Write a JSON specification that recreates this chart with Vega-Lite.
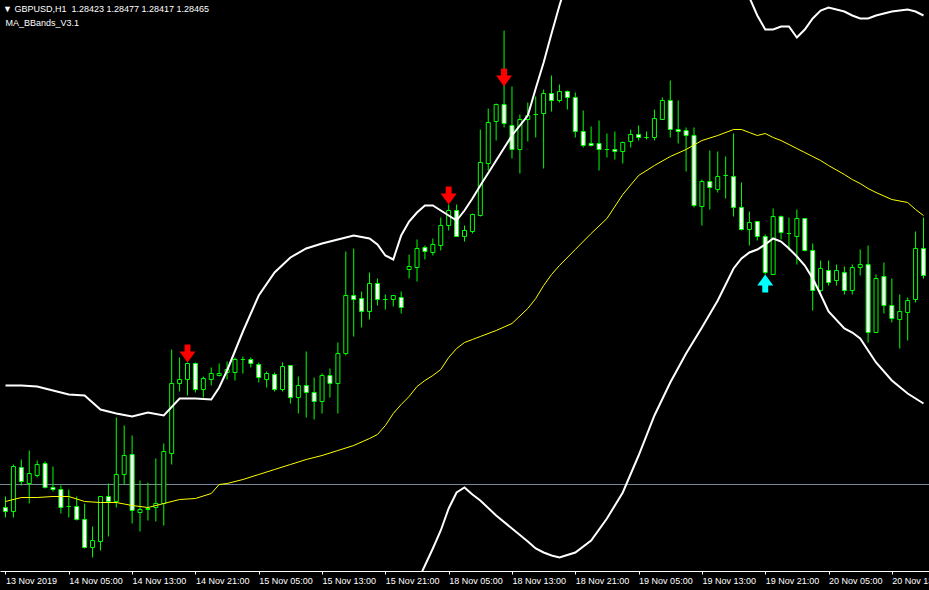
{
  "$schema": "https://vega.github.io/schema/vega-lite/v6.json",
  "width": 929,
  "height": 571,
  "autosize": {"type": "none"},
  "padding": {"left": 0, "top": 0, "right": 0, "bottom": 19},
  "background": "black",
  "title": {
    "text": "▼\u00a0GBPUSD,H1\u00a0\u00a01.28423 1.28477 1.28417 1.28465",
    "subtitle": "\u200b\u00a0MA_BBands_V3.1",
    "anchor": "start",
    "frame": "group",
    "orient": "top",
    "offset": -28,
    "dx": 3,
    "font": "Liberation Sans",
    "fontSize": 9,
    "fontWeight": "normal",
    "color": "white",
    "subtitleFont": "Liberation Sans",
    "subtitleFontSize": 9,
    "subtitleColor": "white",
    "subtitlePadding": 5
  },
  "config": {
    "view": {"stroke": null},
    "axis": {
      "labelFont": "Liberation Sans",
      "labelFontSize": 9,
      "labelColor": "white",
      "domainColor": "white",
      "tickColor": "white",
      "tickSize": 3,
      "labelAlign": "left",
      "labelPadding": 2,
      "labelFlush": false,
      "labelOverlap": false,
      "labelBound": false,
      "grid": false,
      "title": null
    }
  },
  "datasets": {
    "candles": [
      {"bar":0,"open":1.28396,"high":1.28429,"low":1.28366,"close":1.28384},
      {"bar":1,"open":1.28384,"high":1.28525,"low":1.28366,"close":1.28519},
      {"bar":2,"open":1.28516,"high":1.28540,"low":1.28462,"close":1.28474},
      {"bar":3,"open":1.28468,"high":1.28567,"low":1.28408,"close":1.28498},
      {"bar":4,"open":1.28492,"high":1.28537,"low":1.28486,"close":1.28525},
      {"bar":5,"open":1.28528,"high":1.28534,"low":1.28453,"close":1.28456},
      {"bar":6,"open":1.28456,"high":1.28519,"low":1.28444,"close":1.28450},
      {"bar":7,"open":1.28450,"high":1.28462,"low":1.28378,"close":1.28396},
      {"bar":8,"open":1.28399,"high":1.28450,"low":1.28366,"close":1.28399},
      {"bar":9,"open":1.28399,"high":1.28429,"low":1.28357,"close":1.28360},
      {"bar":10,"open":1.28360,"high":1.28408,"low":1.28273,"close":1.28276},
      {"bar":11,"open":1.28276,"high":1.28339,"low":1.28246,"close":1.28297},
      {"bar":12,"open":1.28294,"high":1.28429,"low":1.28267,"close":1.28429},
      {"bar":13,"open":1.28429,"high":1.28468,"low":1.28309,"close":1.28414},
      {"bar":14,"open":1.28414,"high":1.28666,"low":1.28396,"close":1.28495},
      {"bar":15,"open":1.28495,"high":1.28642,"low":1.28465,"close":1.28552},
      {"bar":16,"open":1.28555,"high":1.28612,"low":1.28348,"close":1.28387},
      {"bar":17,"open":1.28381,"high":1.28477,"low":1.28324,"close":1.28390},
      {"bar":18,"open":1.28390,"high":1.28471,"low":1.28357,"close":1.28393},
      {"bar":19,"open":1.28396,"high":1.28543,"low":1.28354,"close":1.28408},
      {"bar":20,"open":1.28408,"high":1.28588,"low":1.28342,"close":1.28564},
      {"bar":21,"open":1.28558,"high":1.28870,"low":1.28525,"close":1.28768},
      {"bar":22,"open":1.28768,"high":1.28846,"low":1.28744,"close":1.28780},
      {"bar":23,"open":1.28780,"high":1.28831,"low":1.28732,"close":1.28828},
      {"bar":24,"open":1.28828,"high":1.28831,"low":1.28741,"close":1.28750},
      {"bar":25,"open":1.28750,"high":1.28789,"low":1.28726,"close":1.28783},
      {"bar":26,"open":1.28780,"high":1.28816,"low":1.28762,"close":1.28798},
      {"bar":27,"open":1.28792,"high":1.28828,"low":1.28789,"close":1.28798},
      {"bar":28,"open":1.28801,"high":1.28834,"low":1.28780,"close":1.28810},
      {"bar":29,"open":1.28801,"high":1.28846,"low":1.28777,"close":1.28840},
      {"bar":30,"open":1.28840,"high":1.28849,"low":1.28798,"close":1.28840},
      {"bar":31,"open":1.28840,"high":1.28846,"low":1.28816,"close":1.28828},
      {"bar":32,"open":1.28825,"high":1.28831,"low":1.28771,"close":1.28786},
      {"bar":33,"open":1.28780,"high":1.28804,"low":1.28756,"close":1.28798},
      {"bar":34,"open":1.28795,"high":1.28801,"low":1.28744,"close":1.28750},
      {"bar":35,"open":1.28750,"high":1.28831,"low":1.28744,"close":1.28819},
      {"bar":36,"open":1.28822,"high":1.28822,"low":1.28708,"close":1.28726},
      {"bar":37,"open":1.28726,"high":1.28789,"low":1.28678,"close":1.28762},
      {"bar":38,"open":1.28762,"high":1.28864,"low":1.28666,"close":1.28741},
      {"bar":39,"open":1.28741,"high":1.28786,"low":1.28660,"close":1.28714},
      {"bar":40,"open":1.28714,"high":1.28798,"low":1.28678,"close":1.28792},
      {"bar":41,"open":1.28792,"high":1.28813,"low":1.28726,"close":1.28768},
      {"bar":42,"open":1.28768,"high":1.28891,"low":1.28678,"close":1.28858},
      {"bar":43,"open":1.28858,"high":1.29164,"low":1.28852,"close":1.29032},
      {"bar":44,"open":1.29032,"high":1.29173,"low":1.28909,"close":1.29020},
      {"bar":45,"open":1.29023,"high":1.29044,"low":1.28936,"close":1.28984},
      {"bar":46,"open":1.28984,"high":1.29101,"low":1.28960,"close":1.29068},
      {"bar":47,"open":1.29068,"high":1.29083,"low":1.29002,"close":1.29020},
      {"bar":48,"open":1.29020,"high":1.29035,"low":1.28990,"close":1.29020},
      {"bar":49,"open":1.29020,"high":1.29032,"low":1.28999,"close":1.29032},
      {"bar":50,"open":1.29026,"high":1.29044,"low":1.28978,"close":1.28996},
      {"bar":51,"open":1.29110,"high":1.29155,"low":1.29083,"close":1.29119},
      {"bar":52,"open":1.29116,"high":1.29200,"low":1.29074,"close":1.29173},
      {"bar":53,"open":1.29176,"high":1.29182,"low":1.29140,"close":1.29164},
      {"bar":54,"open":1.29161,"high":1.29203,"low":1.29152,"close":1.29185},
      {"bar":55,"open":1.29182,"high":1.29266,"low":1.29167,"close":1.29242},
      {"bar":56,"open":1.29242,"high":1.29305,"low":1.29227,"close":1.29287},
      {"bar":57,"open":1.29287,"high":1.29305,"low":1.29209,"close":1.29209},
      {"bar":58,"open":1.29209,"high":1.29242,"low":1.29194,"close":1.29227},
      {"bar":59,"open":1.29224,"high":1.29278,"low":1.29218,"close":1.29275},
      {"bar":60,"open":1.29272,"high":1.29530,"low":1.29269,"close":1.29431},
      {"bar":61,"open":1.29428,"high":1.29593,"low":1.29407,"close":1.29551},
      {"bar":62,"open":1.29554,"high":1.29608,"low":1.29497,"close":1.29605},
      {"bar":63,"open":1.29605,"high":1.29827,"low":1.29536,"close":1.29548},
      {"bar":64,"open":1.29542,"high":1.29659,"low":1.29443,"close":1.29470},
      {"bar":65,"open":1.29470,"high":1.29575,"low":1.29398,"close":1.29560},
      {"bar":66,"open":1.29560,"high":1.29611,"low":1.29494,"close":1.29572},
      {"bar":67,"open":1.29575,"high":1.29629,"low":1.29506,"close":1.29575},
      {"bar":68,"open":1.29578,"high":1.29650,"low":1.29413,"close":1.29638},
      {"bar":69,"open":1.29638,"high":1.29692,"low":1.29584,"close":1.29617},
      {"bar":70,"open":1.29617,"high":1.29665,"low":1.29611,"close":1.29644},
      {"bar":71,"open":1.29644,"high":1.29647,"low":1.29590,"close":1.29626},
      {"bar":72,"open":1.29626,"high":1.29641,"low":1.29506,"close":1.29524},
      {"bar":73,"open":1.29524,"high":1.29587,"low":1.29476,"close":1.29482},
      {"bar":74,"open":1.29488,"high":1.29539,"low":1.29479,"close":1.29482},
      {"bar":75,"open":1.29488,"high":1.29557,"low":1.29407,"close":1.29470},
      {"bar":76,"open":1.29470,"high":1.29518,"low":1.29446,"close":1.29470},
      {"bar":77,"open":1.29470,"high":1.29524,"low":1.29440,"close":1.29464},
      {"bar":78,"open":1.29464,"high":1.29494,"low":1.29428,"close":1.29491},
      {"bar":79,"open":1.29494,"high":1.29530,"low":1.29476,"close":1.29515},
      {"bar":80,"open":1.29515,"high":1.29542,"low":1.29497,"close":1.29506},
      {"bar":81,"open":1.29506,"high":1.29524,"low":1.29500,"close":1.29506},
      {"bar":82,"open":1.29506,"high":1.29590,"low":1.29497,"close":1.29563},
      {"bar":83,"open":1.29560,"high":1.29626,"low":1.29560,"close":1.29617},
      {"bar":84,"open":1.29617,"high":1.29677,"low":1.29506,"close":1.29530},
      {"bar":85,"open":1.29530,"high":1.29617,"low":1.29488,"close":1.29524},
      {"bar":86,"open":1.29527,"high":1.29536,"low":1.29404,"close":1.29512},
      {"bar":87,"open":1.29512,"high":1.29536,"low":1.29296,"close":1.29302},
      {"bar":88,"open":1.29299,"high":1.29380,"low":1.29242,"close":1.29374},
      {"bar":89,"open":1.29374,"high":1.29467,"low":1.29290,"close":1.29356},
      {"bar":90,"open":1.29350,"high":1.29464,"low":1.29341,"close":1.29389},
      {"bar":91,"open":1.29392,"high":1.29449,"low":1.29323,"close":1.29392},
      {"bar":92,"open":1.29389,"high":1.29518,"low":1.29269,"close":1.29296},
      {"bar":93,"open":1.29296,"high":1.29371,"low":1.29227,"close":1.29230},
      {"bar":94,"open":1.29230,"high":1.29284,"low":1.29182,"close":1.29251},
      {"bar":95,"open":1.29254,"high":1.29254,"low":1.29197,"close":1.29209},
      {"bar":96,"open":1.29209,"high":1.29215,"low":1.29095,"close":1.29101},
      {"bar":97,"open":1.29095,"high":1.29293,"low":1.29095,"close":1.29269},
      {"bar":98,"open":1.29269,"high":1.29272,"low":1.29200,"close":1.29221},
      {"bar":99,"open":1.29218,"high":1.29266,"low":1.29167,"close":1.29218},
      {"bar":100,"open":1.29209,"high":1.29290,"low":1.29125,"close":1.29263},
      {"bar":101,"open":1.29263,"high":1.29263,"low":1.29164,"close":1.29167},
      {"bar":102,"open":1.29167,"high":1.29188,"low":1.28987,"close":1.29047},
      {"bar":103,"open":1.29047,"high":1.29137,"low":1.29041,"close":1.29113},
      {"bar":104,"open":1.29107,"high":1.29137,"low":1.29062,"close":1.29071},
      {"bar":105,"open":1.29077,"high":1.29125,"low":1.29062,"close":1.29107},
      {"bar":106,"open":1.29101,"high":1.29119,"low":1.29035,"close":1.29047},
      {"bar":107,"open":1.29047,"high":1.29125,"low":1.29035,"close":1.29116},
      {"bar":108,"open":1.29116,"high":1.29170,"low":1.29092,"close":1.29125},
      {"bar":109,"open":1.29125,"high":1.29182,"low":1.28891,"close":1.28921},
      {"bar":110,"open":1.28921,"high":1.29095,"low":1.28921,"close":1.29083},
      {"bar":111,"open":1.29089,"high":1.29131,"low":1.28978,"close":1.29002},
      {"bar":112,"open":1.29002,"high":1.29083,"low":1.28951,"close":1.28963},
      {"bar":113,"open":1.28960,"high":1.29035,"low":1.28873,"close":1.28984},
      {"bar":114,"open":1.28981,"high":1.29026,"low":1.28897,"close":1.29017},
      {"bar":115,"open":1.29020,"high":1.29224,"low":1.29011,"close":1.29173},
      {"bar":116,"open":1.29173,"high":1.29266,"low":1.29083,"close":1.29092}
    ],
    "bands": [
      {"bar":0,"upper":1.28762,"mid":1.28414,"lower":1.28066},
      {"bar":2,"upper":1.28762,"mid":1.28426,"lower":1.28090},
      {"bar":4,"upper":1.28759,"mid":1.28426,"lower":1.28093},
      {"bar":6,"upper":1.28747,"mid":1.28429,"lower":1.28111},
      {"bar":8,"upper":1.28735,"mid":1.28429,"lower":1.28123},
      {"bar":10,"upper":1.28732,"mid":1.28414,"lower":1.28096},
      {"bar":12,"upper":1.28690,"mid":1.28411,"lower":1.28132},
      {"bar":14,"upper":1.28678,"mid":1.28411,"lower":1.28144},
      {"bar":16,"upper":1.28669,"mid":1.28402,"lower":1.28135},
      {"bar":18,"upper":1.28681,"mid":1.28396,"lower":1.28111},
      {"bar":20,"upper":1.28672,"mid":1.28408,"lower":1.28144},
      {"bar":22,"upper":1.28723,"mid":1.28420,"lower":1.28117},
      {"bar":24,"upper":1.28723,"mid":1.28423,"lower":1.28123},
      {"bar":26,"upper":1.28720,"mid":1.28438,"lower":1.28156},
      {"bar":27,"upper":1.28756,"mid":1.28465,"lower":1.28174},
      {"bar":28,"upper":1.28807,"mid":1.28468,"lower":1.28129},
      {"bar":30,"upper":1.28924,"mid":1.28480,"lower":1.28036},
      {"bar":32,"upper":1.29032,"mid":1.28495,"lower":1.27958},
      {"bar":34,"upper":1.29101,"mid":1.28510,"lower":1.27919},
      {"bar":36,"upper":1.29146,"mid":1.28525,"lower":1.27904},
      {"bar":38,"upper":1.29173,"mid":1.28540,"lower":1.27907},
      {"bar":40,"upper":1.29188,"mid":1.28552,"lower":1.27916},
      {"bar":42,"upper":1.29200,"mid":1.28567,"lower":1.27934},
      {"bar":44,"upper":1.29212,"mid":1.28582,"lower":1.27952},
      {"bar":46,"upper":1.29203,"mid":1.28603,"lower":1.28003},
      {"bar":47,"upper":1.29185,"mid":1.28615,"lower":1.28045},
      {"bar":48,"upper":1.29152,"mid":1.28642,"lower":1.28132},
      {"bar":49,"upper":1.29140,"mid":1.28678,"lower":1.28147},
      {"bar":50,"upper":1.29212,"mid":1.28705,"lower":1.28117},
      {"bar":51,"upper":1.29254,"mid":1.28729,"lower":1.28132},
      {"bar":52,"upper":1.29281,"mid":1.28759,"lower":1.28171},
      {"bar":53,"upper":1.29302,"mid":1.28777,"lower":1.28222},
      {"bar":54,"upper":1.29302,"mid":1.28792,"lower":1.28273},
      {"bar":55,"upper":1.29287,"mid":1.28810,"lower":1.28327},
      {"bar":56,"upper":1.29272,"mid":1.28846,"lower":1.28393},
      {"bar":57,"upper":1.29257,"mid":1.28873,"lower":1.28441},
      {"bar":58,"upper":1.29287,"mid":1.28891,"lower":1.28456},
      {"bar":59,"upper":1.29323,"mid":1.28900,"lower":1.28435},
      {"bar":60,"upper":1.29362,"mid":1.28909,"lower":1.28417},
      {"bar":62,"upper":1.29437,"mid":1.28927,"lower":1.28372},
      {"bar":64,"upper":1.29512,"mid":1.28948,"lower":1.28333},
      {"bar":66,"upper":1.29572,"mid":1.28993,"lower":1.28294},
      {"bar":67,"upper":1.29653,"mid":1.29023,"lower":1.28273},
      {"bar":68,"upper":1.29731,"mid":1.29062,"lower":1.28261},
      {"bar":69,"upper":1.29818,"mid":1.29095,"lower":1.28252},
      {"bar":70,"upper":1.29902,"mid":1.29122,"lower":1.28246},
      {"bar":72,"upper":1.30052,"mid":1.29170,"lower":1.28261},
      {"bar":74,"upper":1.30142,"mid":1.29218,"lower":1.28297},
      {"bar":76,"upper":1.30187,"mid":1.29263,"lower":1.28363},
      {"bar":78,"upper":1.30232,"mid":1.29335,"lower":1.28441},
      {"bar":80,"upper":1.30232,"mid":1.29392,"lower":1.28552},
      {"bar":82,"upper":1.30187,"mid":1.29422,"lower":1.28672},
      {"bar":84,"upper":1.30142,"mid":1.29449,"lower":1.28771},
      {"bar":86,"upper":1.30082,"mid":1.29470,"lower":1.28858},
      {"bar":88,"upper":1.30052,"mid":1.29497,"lower":1.28936},
      {"bar":90,"upper":1.30007,"mid":1.29512,"lower":1.29017},
      {"bar":92,"upper":1.29977,"mid":1.29530,"lower":1.29113},
      {"bar":93,"upper":1.29947,"mid":1.29530,"lower":1.29143},
      {"bar":94,"upper":1.29926,"mid":1.29521,"lower":1.29161},
      {"bar":95,"upper":1.29872,"mid":1.29512,"lower":1.29170},
      {"bar":96,"upper":1.29830,"mid":1.29518,"lower":1.29185},
      {"bar":97,"upper":1.29830,"mid":1.29506,"lower":1.29203},
      {"bar":98,"upper":1.29839,"mid":1.29497,"lower":1.29194},
      {"bar":99,"upper":1.29839,"mid":1.29485,"lower":1.29173},
      {"bar":100,"upper":1.29806,"mid":1.29473,"lower":1.29149},
      {"bar":101,"upper":1.29830,"mid":1.29461,"lower":1.29122},
      {"bar":102,"upper":1.29863,"mid":1.29449,"lower":1.29083},
      {"bar":103,"upper":1.29887,"mid":1.29437,"lower":1.29035},
      {"bar":104,"upper":1.29896,"mid":1.29422,"lower":1.28984},
      {"bar":106,"upper":1.29884,"mid":1.29395,"lower":1.28933},
      {"bar":107,"upper":1.29872,"mid":1.29380,"lower":1.28921},
      {"bar":108,"upper":1.29863,"mid":1.29368,"lower":1.28903},
      {"bar":109,"upper":1.29863,"mid":1.29353,"lower":1.28867},
      {"bar":110,"upper":1.29872,"mid":1.29341,"lower":1.28831},
      {"bar":112,"upper":1.29884,"mid":1.29320,"lower":1.28777},
      {"bar":114,"upper":1.29890,"mid":1.29311,"lower":1.28738},
      {"bar":115,"upper":1.29884,"mid":1.29290,"lower":1.28723},
      {"bar":116,"upper":1.29872,"mid":1.29272,"lower":1.28708}
    ],
    "signals": [
      {"bar":23,"price":1.28858,"type":"sell"},
      {"bar":56,"price":1.29332,"type":"sell"},
      {"bar":63,"price":1.29686,"type":"sell"},
      {"bar":96,"price":1.29068,"type":"buy"}
    ]
  },
  "layer": [
    {
      "data": {"values": [{"price": 1.28465}]},
      "mark": {"type": "rule", "color": "#778899", "strokeWidth": 1},
      "encoding": {
        "y": {"field": "price", "type": "quantitative", "scale": {"domain": [1.282055, 1.299185], "zero": false, "nice": false}, "axis": null}
      }
    },
    {
      "data": {"name": "candles"},
      "mark": {"type": "rule", "color": "#00FF00", "strokeWidth": 1, "clip": true},
      "encoding": {
        "x": {"field": "bar", "type": "quantitative", "scale": {"domain": [-0.0625, 116.0625], "zero": false, "nice": false},
          "axis": {"values": [0,8,16,24,32,40,48,56,64,72,80,88,96,104,112],
            "labelExpr": "['13 Nov 2019','14 Nov 05:00','14 Nov 13:00','14 Nov 21:00','15 Nov 05:00','15 Nov 13:00','15 Nov 21:00','18 Nov 05:00','18 Nov 13:00','18 Nov 21:00','19 Nov 05:00','19 Nov 13:00','19 Nov 21:00','20 Nov 05:00','20 Nov 13:00'][round(datum.value/8)]"}},
        "y": {"field": "low", "type": "quantitative", "scale": {"domain": [1.282055, 1.299185], "zero": false, "nice": false}, "axis": null},
        "y2": {"field": "high"}
      }
    },
    {
      "data": {"name": "candles"},
      "mark": {"type": "bar", "width": 4, "stroke": "#00FF00", "strokeWidth": 1, "clip": true},
      "encoding": {
        "x": {"field": "bar", "type": "quantitative", "scale": {"domain": [-0.0625, 116.0625], "zero": false, "nice": false},
          "axis": {"values": [0,8,16,24,32,40,48,56,64,72,80,88,96,104,112],
            "labelExpr": "['13 Nov 2019','14 Nov 05:00','14 Nov 13:00','14 Nov 21:00','15 Nov 05:00','15 Nov 13:00','15 Nov 21:00','18 Nov 05:00','18 Nov 13:00','18 Nov 21:00','19 Nov 05:00','19 Nov 13:00','19 Nov 21:00','20 Nov 05:00','20 Nov 13:00'][round(datum.value/8)]"}},
        "y": {"field": "open", "type": "quantitative", "scale": {"domain": [1.282055, 1.299185], "zero": false, "nice": false}, "axis": null},
        "y2": {"field": "close"},
        "fill": {"condition": {"test": "datum.close < datum.open", "value": "white"}, "value": "black"}
      }
    },
    {
      "data": {"name": "bands"},
      "mark": {"type": "line", "color": "#FFFF00", "strokeWidth": 1, "clip": true},
      "encoding": {
        "x": {"field": "bar", "type": "quantitative", "scale": {"domain": [-0.0625, 116.0625], "zero": false, "nice": false},
          "axis": {"values": [0,8,16,24,32,40,48,56,64,72,80,88,96,104,112],
            "labelExpr": "['13 Nov 2019','14 Nov 05:00','14 Nov 13:00','14 Nov 21:00','15 Nov 05:00','15 Nov 13:00','15 Nov 21:00','18 Nov 05:00','18 Nov 13:00','18 Nov 21:00','19 Nov 05:00','19 Nov 13:00','19 Nov 21:00','20 Nov 05:00','20 Nov 13:00'][round(datum.value/8)]"}},
        "y": {"field": "mid", "type": "quantitative", "scale": {"domain": [1.282055, 1.299185], "zero": false, "nice": false}, "axis": null}
      }
    },
    {
      "data": {"name": "bands"},
      "mark": {"type": "line", "color": "white", "strokeWidth": 2, "clip": true},
      "encoding": {
        "x": {"field": "bar", "type": "quantitative", "scale": {"domain": [-0.0625, 116.0625], "zero": false, "nice": false},
          "axis": {"values": [0,8,16,24,32,40,48,56,64,72,80,88,96,104,112],
            "labelExpr": "['13 Nov 2019','14 Nov 05:00','14 Nov 13:00','14 Nov 21:00','15 Nov 05:00','15 Nov 13:00','15 Nov 21:00','18 Nov 05:00','18 Nov 13:00','18 Nov 21:00','19 Nov 05:00','19 Nov 13:00','19 Nov 21:00','20 Nov 05:00','20 Nov 13:00'][round(datum.value/8)]"}},
        "y": {"field": "upper", "type": "quantitative", "scale": {"domain": [1.282055, 1.299185], "zero": false, "nice": false}, "axis": null}
      }
    },
    {
      "data": {"name": "bands"},
      "mark": {"type": "line", "color": "white", "strokeWidth": 2, "clip": true},
      "encoding": {
        "x": {"field": "bar", "type": "quantitative", "scale": {"domain": [-0.0625, 116.0625], "zero": false, "nice": false},
          "axis": {"values": [0,8,16,24,32,40,48,56,64,72,80,88,96,104,112],
            "labelExpr": "['13 Nov 2019','14 Nov 05:00','14 Nov 13:00','14 Nov 21:00','15 Nov 05:00','15 Nov 13:00','15 Nov 21:00','18 Nov 05:00','18 Nov 13:00','18 Nov 21:00','19 Nov 05:00','19 Nov 13:00','19 Nov 21:00','20 Nov 05:00','20 Nov 13:00'][round(datum.value/8)]"}},
        "y": {"field": "lower", "type": "quantitative", "scale": {"domain": [1.282055, 1.299185], "zero": false, "nice": false}, "axis": null}
      }
    },
    {
      "data": {"name": "signals"},
      "mark": {"type": "point", "filled": true, "opacity": 1, "size": 324, "strokeWidth": 0},
      "encoding": {
        "x": {"field": "bar", "type": "quantitative", "scale": {"domain": [-0.0625, 116.0625], "zero": false, "nice": false},
          "axis": {"values": [0,8,16,24,32,40,48,56,64,72,80,88,96,104,112],
            "labelExpr": "['13 Nov 2019','14 Nov 05:00','14 Nov 13:00','14 Nov 21:00','15 Nov 05:00','15 Nov 13:00','15 Nov 21:00','18 Nov 05:00','18 Nov 13:00','18 Nov 21:00','19 Nov 05:00','19 Nov 13:00','19 Nov 21:00','20 Nov 05:00','20 Nov 13:00'][round(datum.value/8)]"}},
        "y": {"field": "price", "type": "quantitative", "scale": {"domain": [1.282055, 1.299185], "zero": false, "nice": false}, "axis": null},
        "color": {"field": "type", "type": "nominal", "scale": {"domain": ["sell", "buy"], "range": ["#FF0000", "#00FFFF"]}, "legend": null},
        "shape": {"field": "type", "type": "nominal", "scale": {"domain": ["sell", "buy"], "range": ["M-0.33,-1L0.33,-1L0.33,-0.22L0.89,-0.22L0,1L-0.89,-0.22L-0.33,-0.22Z", "M-0.33,1L0.33,1L0.33,0.22L0.89,0.22L0,-1L-0.89,0.22L-0.33,0.22Z"]}, "legend": null}
      }
    }
  ]
}
